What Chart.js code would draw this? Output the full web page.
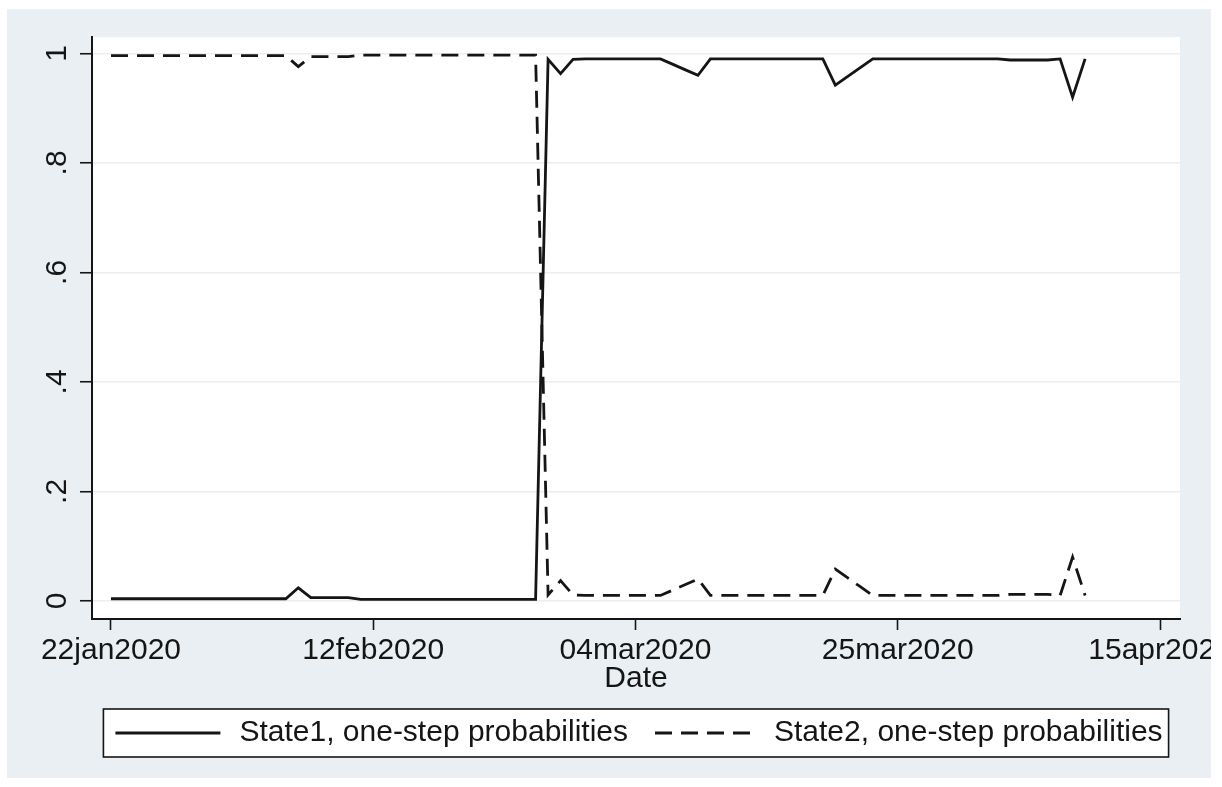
<!DOCTYPE html>
<html><head><meta charset="utf-8">
<script src="https://cdn.jsdelivr.net/npm/chart.js@4.4.1/dist/chart.umd.min.js"></script>
<style>
html,body{margin:0;padding:0;background:#fff;}
#wrap{position:absolute;left:0;top:0;width:1211px;height:787px;overflow:hidden;}
canvas{display:block;}
</style></head><body>
<div id="wrap"><canvas id="c" width="1272" height="787"></canvas></div>
<script>
const dates = [
'2020-01-22','2020-01-23','2020-01-24','2020-01-25','2020-01-26','2020-01-27','2020-01-28','2020-01-29','2020-01-30','2020-01-31',
'2020-02-01','2020-02-02','2020-02-03','2020-02-04','2020-02-05','2020-02-06','2020-02-07','2020-02-08','2020-02-09','2020-02-10',
'2020-02-11','2020-02-12','2020-02-13','2020-02-14','2020-02-15','2020-02-16','2020-02-17','2020-02-18','2020-02-19','2020-02-20',
'2020-02-21','2020-02-22','2020-02-23','2020-02-24','2020-02-25','2020-02-26','2020-02-27','2020-02-28','2020-02-29',
'2020-03-01','2020-03-02','2020-03-03','2020-03-04','2020-03-05','2020-03-06','2020-03-07','2020-03-08','2020-03-09','2020-03-10',
'2020-03-11','2020-03-12','2020-03-13','2020-03-14','2020-03-15','2020-03-16','2020-03-17','2020-03-18','2020-03-19','2020-03-20',
'2020-03-21','2020-03-22','2020-03-23','2020-03-24','2020-03-25','2020-03-26','2020-03-27','2020-03-28','2020-03-29','2020-03-30','2020-03-31',
'2020-04-01','2020-04-02','2020-04-03','2020-04-04','2020-04-05','2020-04-06','2020-04-07','2020-04-08','2020-04-09'];

const state1 = [
0.004,0.004,0.004,0.004,0.004,0.004,0.004,0.004,0.004,0.004,
0.004,0.004,0.004,0.004,0.004,0.024,0.006,0.006,0.006,0.006,
0.003,0.003,0.003,0.003,0.003,0.003,0.003,0.003,0.003,0.003,
0.003,0.003,0.003,0.003,0.003,0.989,0.963,0.989,0.990,
0.990,0.990,0.990,0.990,0.990,0.990,0.980,0.970,0.960,0.990,
0.990,0.990,0.990,0.990,0.990,0.990,0.990,0.990,0.990,0.942,
0.958,0.974,0.990,0.990,0.990,0.990,0.990,0.990,0.990,0.990,0.990,
0.990,0.990,0.988,0.988,0.988,0.988,0.990,0.920,0.990];

const state2 = [
0.996,0.996,0.996,0.996,0.996,0.996,0.996,0.996,0.996,0.996,
0.996,0.996,0.996,0.996,0.996,0.976,0.994,0.994,0.994,0.994,
0.997,0.997,0.997,0.997,0.997,0.997,0.997,0.997,0.997,0.997,
0.997,0.997,0.997,0.997,0.997,0.011,0.037,0.011,0.010,
0.010,0.010,0.010,0.010,0.010,0.010,0.020,0.030,0.040,0.010,
0.010,0.010,0.010,0.010,0.010,0.010,0.010,0.010,0.010,0.058,
0.042,0.026,0.010,0.010,0.010,0.010,0.010,0.010,0.010,0.010,0.010,
0.010,0.010,0.012,0.012,0.012,0.012,0.010,0.080,0.010];

const seriesNames = ['State1, one-step probabilities', 'State2, one-step probabilities'];
const xTickDates = ['2020-01-22','2020-02-12','2020-03-04','2020-03-25','2020-04-15'];
const xTickLabels = ['22jan2020','12feb2020','04mar2020','25mar2020','15apr2020'];
const yTickValues = [0, 0.2, 0.4, 0.6, 0.8, 1];
const yTickLabels = ['0', '.2', '.4', '.6', '.8', '1'];
const xTitle = 'Date';

const DAY = 86400000;
const t0 = Date.parse(dates[0]);
const dayOf = d => Math.round((Date.parse(d) - t0) / DAY);

Chart.defaults.font.family = "'Liberation Sans', Arial, sans-serif";
Chart.defaults.color = '#111';

const INK = '#151515';
const BG = '#e9eff2';
const sampleOffset = [6, 11];
const sampleLength = [105, 97];

const bgPlugin = {
  id: 'stataBg',
  afterLayout(chart) {
    const y = chart.scales.y;
    y.left = 0;
    y.width = y.right - y.left;
  },
  beforeDraw(chart) {
    const ctx = chart.ctx, a = chart.chartArea;
    ctx.save();
    ctx.fillStyle = '#ffffff';
    ctx.fillRect(0, 0, chart.width, chart.height);
    ctx.fillStyle = BG;
    ctx.fillRect(7, 9, chart.width - 7, 778 - 9);
    ctx.fillStyle = '#ffffff';
    ctx.fillRect(a.left, a.top, a.right - a.left, a.bottom - a.top);
    const lg = chart.legend;
    if (lg && lg.legendHitBoxes && lg.legendHitBoxes.length) {
      const hb = lg.legendHitBoxes;
      const first = hb[0], last = hb[hb.length - 1];
      const cy = first.top + first.height / 2;
      const x1 = first.left - 6, x2 = last.left + last.width + 6;
      ctx.fillStyle = '#ffffff';
      ctx.fillRect(x1, cy - 24, x2 - x1, 48);
      ctx.strokeStyle = INK;
      ctx.lineWidth = 1.6;
      ctx.strokeRect(x1, cy - 24, x2 - x1, 48);
    }
    ctx.restore();
  },
  afterDraw(chart) {
    const ctx = chart.ctx, lg = chart.legend;
    if (!lg || !lg.legendHitBoxes) return;
    ctx.save();
    lg.legendHitBoxes.forEach((hb, i) => {
      const ds = chart.data.datasets[i];
      const cy = hb.top + hb.height / 2;
      ctx.strokeStyle = ds.borderColor;
      ctx.lineWidth = ds.borderWidth;
      ctx.setLineDash(ds.borderDash || []);
      ctx.beginPath();
      ctx.moveTo(hb.left + sampleOffset[i], cy);
      ctx.lineTo(hb.left + sampleOffset[i] + sampleLength[i], cy);
      ctx.stroke();
    });
    ctx.restore();
  }
};

const mkData = arr => dates.map((d, i) => ({ x: dayOf(d), y: arr[i] }));

new Chart(document.getElementById('c'), {
  type: 'line',
  data: {
    datasets: [
      { label: seriesNames[0], data: mkData(state1), borderColor: INK, backgroundColor: INK,
        borderWidth: 2.8, pointRadius: 0, tension: 0, fill: false },
      { label: seriesNames[1], data: mkData(state2), borderColor: INK, backgroundColor: INK,
        borderWidth: 2.8, borderDash: [17, 9], pointRadius: 0, tension: 0, fill: false }
    ]
  },
  options: {
    responsive: false,
    animation: false,
    devicePixelRatio: 1,
    events: [],
    layout: { padding: { left: 92, top: 37, right: 92, bottom: 29 } },
    plugins: {
      tooltip: { enabled: false },
      legend: {
        position: 'bottom',
        align: 'center',
        labels: {
          usePointStyle: true, pointStyle: 'line', pointStyleWidth: 115,
          padding: 16, color: INK, font: { size: 30 },
          generateLabels: chart => Chart.defaults.plugins.legend.labels.generateLabels(chart)
            .map(it => Object.assign(it, { lineWidth: 0 }))
        }
      }
    },
    scales: {
      x: {
        type: 'linear', min: -1.52, max: 85.6,
        afterBuildTicks: s => { s.ticks = xTickDates.map(d => ({ value: dayOf(d) })); },
        afterFit: s => { s.height = 83; },
        ticks: {
          autoSkip: false, maxRotation: 0, minRotation: 0, padding: 3, color: INK, font: { size: 30 },
          callback: v => { const i = xTickDates.findIndex(d => dayOf(d) === v); return i >= 0 ? xTickLabels[i] : ''; }
        },
        grid: { drawOnChartArea: false, drawTicks: true, tickLength: 11, tickColor: INK, tickWidth: 1.6 },
        border: { display: true, color: INK, width: 2 },
        title: { display: true, text: xTitle, color: INK, font: { size: 30 }, padding: { top: 0, bottom: 5 } }
      },
      y: {
        type: 'linear', min: -0.033, max: 1.03,
        afterBuildTicks: s => { s.ticks = yTickValues.map(v => ({ value: v })); },
        afterFit: s => { s.width = 0; },
        ticks: {
          minRotation: 90, maxRotation: 90, crossAlign: 'center', padding: 9.5, color: INK, font: { size: 30 },
          callback: (v, i) => yTickLabels[i]
        },
        grid: { color: '#eaeef0', lineWidth: 1.5, drawTicks: true, tickLength: 12, tickColor: INK, tickWidth: 1.6 },
        border: { display: true, color: INK, width: 2 }
      }
    }
  },
  plugins: [bgPlugin]
});
</script>
</body></html>
